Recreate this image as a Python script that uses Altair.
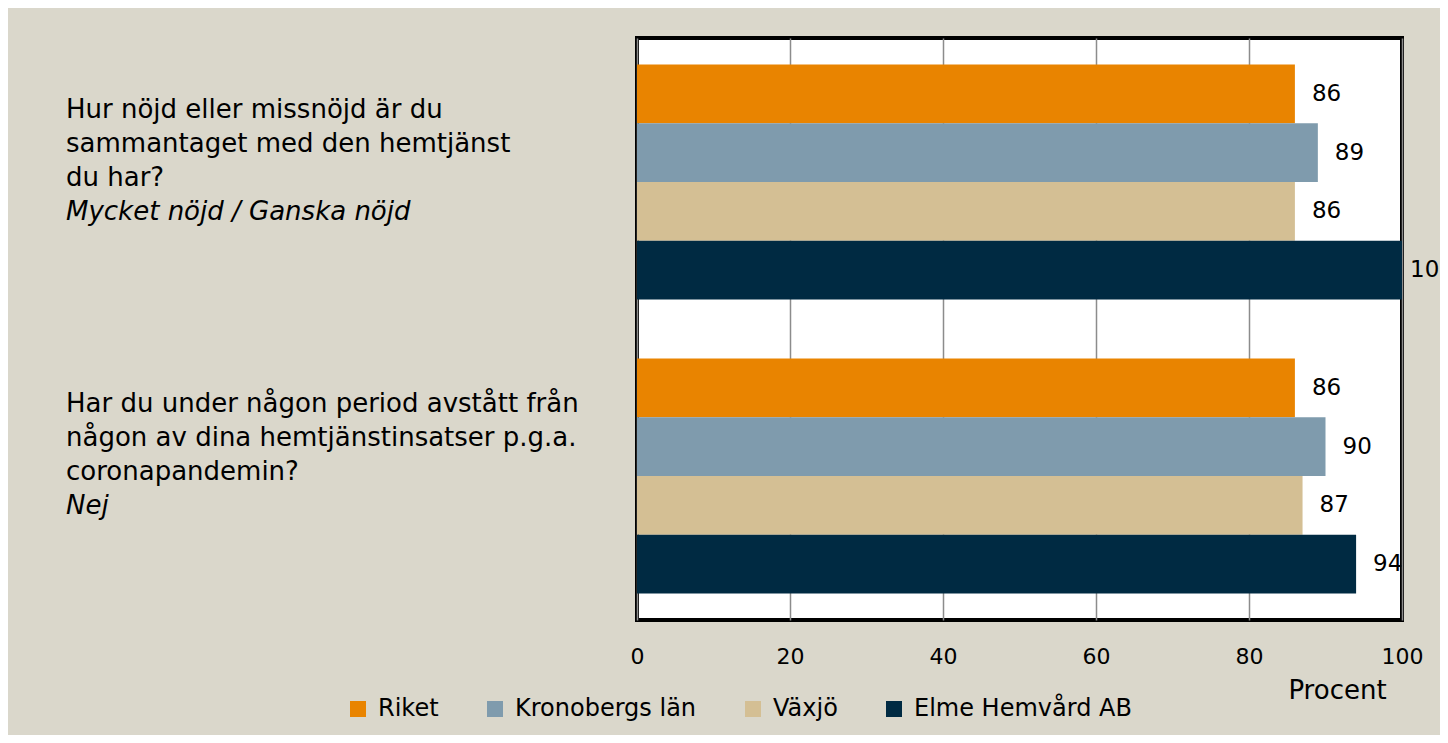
import altair as alt
import pandas as pd

# ---- data ----
series = ["Riket", "Kronobergs län", "Växjö", "Elme Hemvård AB"]
colors = ["#E98400", "#7F9BAD", "#D4BF94", "#002A42"]
question_ids = ["Q1", "Q2"]
question_text = [
    "Hur nöjd eller missnöjd är du\nsammantaget med den hemtjänst\ndu har?",
    "Har du under någon period avstått från\nnågon av dina hemtjänstinsatser p.g.a.\ncoronapandemin?",
]
question_sub = ["Mycket nöjd / Ganska nöjd", "Nej"]
values_q1 = [86, 89, 86, 100]
values_q2 = [86, 90, 87, 94]
x_ticks = [0, 20, 40, 60, 80, 100]

FONT = "DejaVu Sans"

rows = []
for qid, vals in zip(question_ids, [values_q1, values_q2]):
    for s, v in zip(series, vals):
        rows.append({"q": qid, "serie": s, "value": v})
bars_df = pd.DataFrame(rows)
q_df = pd.DataFrame({"q": question_ids, "text": question_text, "sub": question_sub})

y_enc = alt.Y("q:N", sort=question_ids, axis=None,
              scale=alt.Scale(paddingInner=0.2, paddingOuter=0.09))
yoff_enc = alt.YOffset("serie:N", sort=series,
                       scale=alt.Scale(paddingInner=0, paddingOuter=0))

x_enc = alt.X(
    "value:Q",
    scale=alt.Scale(domain=[0, 100], nice=False),
    axis=alt.Axis(
        values=x_ticks, grid=True, gridColor="#8C8C8C", gridWidth=1.5,
        domain=False, ticks=False, tickSize=0, labelPadding=26,
        labelFlush=False,
        labelFont=FONT, labelFontSize=22, labelColor="black",
        title="Procent", titleFont=FONT, titleFontSize=26,
        titleFontWeight="normal", titleColor="black",
        titleX=700, titleY=70, titleAlign="center", titleBaseline="middle",
    ),
)

base = alt.Chart(bars_df)

bars = base.mark_bar().encode(
    x=x_enc,
    y=y_enc,
    yOffset=yoff_enc,
    color=alt.Color(
        "serie:N", sort=series,
        scale=alt.Scale(domain=series, range=colors),
        legend=alt.Legend(
            title=None, orient="none", direction="horizontal",
            legendX=-291, legendY=659,
            symbolType="square", symbolSize=256, symbolStrokeWidth=0,
            labelFont=FONT, labelFontSize=24, labelColor="black",
            labelOffset=8, columnPadding=44, labelLimit=400,
        ),
    ),
)

labels = base.transform_filter("datum.value < 100").mark_text(
    align="left", baseline="middle", dx=17,
    font=FONT, fontSize=23, color="black").encode(
    x="value:Q",
    y=y_enc,
    yOffset=yoff_enc,
    text="value:Q",
)

labels_full = base.transform_filter("datum.value >= 100").mark_text(
    align="left", baseline="middle", dx=8,
    font=FONT, fontSize=23, color="black").encode(
    x="value:Q",
    y=y_enc,
    yOffset=yoff_enc,
    text="value:Q",
)

qtext = alt.Chart(q_df).mark_text(
    align="left", baseline="middle", lineBreak="\n", lineHeight=34,
    dy=-72, font=FONT, fontSize=26, color="black",
).encode(x=alt.value(-571), y=y_enc, text="text:N")

qsub = alt.Chart(q_df).mark_text(
    align="left", baseline="middle", dy=30,
    font=FONT, fontSize=26, fontStyle="italic", color="black",
).encode(x=alt.value(-571), y=y_enc, text="sub:N")

chart = (
    alt.layer(bars, labels, labels_full, qtext, qsub)
    .properties(
        width=765, height=582,
        background="#DAD7CB",
        padding={"left": 629, "top": 30, "right": 38, "bottom": 115},
        autosize=alt.AutoSizeParams(type="none"),
    )
    .configure_view(fill="white", stroke="black", strokeWidth=4)
)

chart.save("out.html", embed_options={"renderer": "svg", "actions": False})
